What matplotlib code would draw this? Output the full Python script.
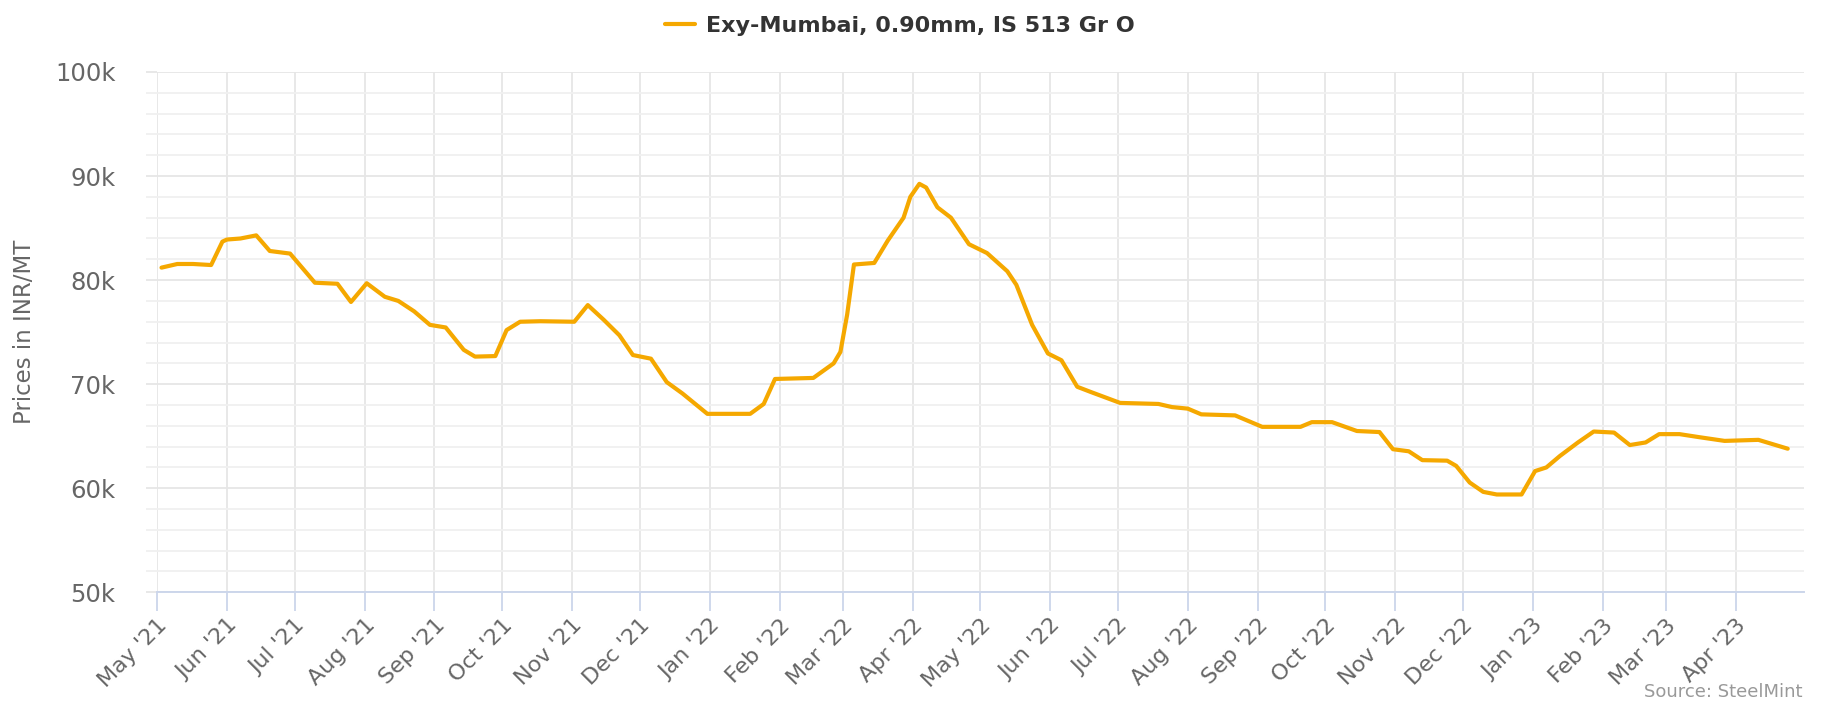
import matplotlib
matplotlib.use("Agg")
import matplotlib.pyplot as plt
import matplotlib.dates as mdates
from matplotlib.ticker import MultipleLocator, FuncFormatter
from matplotlib import font_manager
import pandas as pd

# ---- data ----
dates = [
    "2021-05-03", "2021-05-10", "2021-05-17", "2021-05-25", "2021-05-30", "2021-06-01",
    "2021-06-07", "2021-06-14", "2021-06-20", "2021-06-29", "2021-07-10", "2021-07-20",
    "2021-07-26", "2021-08-02", "2021-08-10", "2021-08-16", "2021-08-23", "2021-08-30",
    "2021-09-06", "2021-09-14", "2021-09-19", "2021-09-28", "2021-10-03", "2021-10-09",
    "2021-10-18", "2021-11-02", "2021-11-08", "2021-11-15", "2021-11-22", "2021-11-28",
    "2021-12-06", "2021-12-13", "2021-12-20", "2021-12-31", "2022-01-19", "2022-01-25",
    "2022-01-30", "2022-02-16", "2022-02-25", "2022-02-28", "2022-03-03", "2022-03-06",
    "2022-03-15", "2022-03-21", "2022-03-28", "2022-03-31", "2022-04-04", "2022-04-07",
    "2022-04-12", "2022-04-18", "2022-04-26", "2022-05-04", "2022-05-13", "2022-05-17",
    "2022-05-24", "2022-05-31", "2022-06-06", "2022-06-13", "2022-06-19", "2022-07-02",
    "2022-07-19", "2022-07-25", "2022-08-01", "2022-08-07", "2022-08-22", "2022-09-03",
    "2022-09-20", "2022-09-25", "2022-10-04", "2022-10-15", "2022-10-25", "2022-10-31",
    "2022-11-07", "2022-11-13", "2022-11-24", "2022-11-28", "2022-12-04", "2022-12-10",
    "2022-12-16", "2022-12-27", "2023-01-02", "2023-01-07", "2023-01-13", "2023-01-21",
    "2023-01-28", "2023-02-06", "2023-02-13", "2023-02-20", "2023-02-26", "2023-03-07",
    "2023-03-16", "2023-03-27", "2023-04-11", "2023-04-24",
]
prices = [
    81200, 81550, 81550, 81450, 83700, 83900,
    84000, 84300, 82800, 82550, 79750, 79650,
    77900, 79700, 78400, 78000, 77000, 75700,
    75450, 73300, 72650, 72700, 75200, 76000,
    76050, 76000, 77600, 76200, 74700, 72800,
    72450, 70200, 69100, 67150, 67150, 68100,
    70500, 70600, 72000, 73100, 76700, 81500,
    81650, 83800, 86000, 88000, 89250, 88900,
    87000, 86000, 83450, 82600, 80850, 79550,
    75700, 72950, 72300, 69750, 69250, 68200,
    68100, 67800, 67650, 67100, 67000, 65900,
    65900, 66350, 66350, 65500, 65400, 63750,
    63550, 62700, 62650, 62150, 60550, 59650,
    59400, 59400, 61650, 62000, 63100, 64400,
    65450, 65350, 64150, 64400, 65200, 65200,
    64900, 64550, 64650, 63800,
]
month_ticks = pd.date_range("2021-05-01", "2023-04-01", freq="MS")
series_name = "Exy-Mumbai, 0.90mm, IS 513 Gr O"
y_title = "Prices in INR/MT"
source_text = "Source: SteelMint"

x = pd.to_datetime(dates)

plt.rcParams['font.family'] = ['DejaVu Sans']
names = {f.name for f in font_manager.fontManager.ttflist}
narrow = 'Liberation Sans Narrow' if 'Liberation Sans Narrow' in names else 'DejaVu Sans'

W, H = 1822, 704
fig = plt.figure(figsize=(W / 100, H / 100), dpi=100)
left, right, top, bottom = 157, 1803.5, 72, 592.3
ax = fig.add_axes([left / W, 1 - bottom / H, (right - left) / W, (bottom - top) / H])

line_color = '#F5A800'
ax.plot(x, prices, color=line_color, lw=3.0, solid_joinstyle='round',
        solid_capstyle='round', label=series_name, zorder=3)

ax.set_xlim(pd.Timestamp("2021-05-01"), pd.Timestamp("2023-05-01"))
ax.set_ylim(50000, 100000)

# y axis
ax.yaxis.set_major_locator(MultipleLocator(10000))
ax.yaxis.set_minor_locator(MultipleLocator(2000))
ax.yaxis.set_major_formatter(FuncFormatter(lambda v, p: f"{int(v/1000)}k"))
ax.tick_params(axis='y', which='both', direction='out', length=8, width=1.3,
               color='#e6e6e6', pad=22, labelsize=17.5, labelcolor='#666666')
ax.tick_params(axis='y', which='minor', color='#f0f0f0')

# x axis
ax.set_xticks(month_ticks)
ax.xaxis.set_major_formatter(mdates.DateFormatter("%b '%y"))
ax.tick_params(axis='x', which='major', direction='out', length=13.5, width=1.3,
               color='#ccd6eb', pad=3, labelsize=16, labelcolor='#666666')
for lab in ax.get_xticklabels():
    lab.set_rotation(45)
    lab.set_ha('right')
    lab.set_va('top')
    lab.set_rotation_mode('anchor')

# grid
ax.grid(True, which='major', axis='both', color='#e6e6e6', lw=1.3, zorder=0)
ax.grid(True, which='minor', axis='y', color='#f0f0f0', lw=1.3, zorder=0)
ax.set_axisbelow(True)

for s in ['left', 'right', 'top']:
    ax.spines[s].set_visible(False)
ax.spines['bottom'].set_color('#ccd6eb')
ax.spines['bottom'].set_linewidth(1.4)

# y title
fig.text(25 / W, 1 - 332 / H, y_title, rotation=90, ha='center', va='center',
         fontsize=16.5, color='#666666')

# legend
leg = fig.legend(loc='center', bbox_to_anchor=(0.494, 1 - 26 / H), frameon=False,
                 handlelength=1.35, handletextpad=0.5,
                 prop={'weight': 'bold', 'size': 16})
for t in leg.get_texts():
    t.set_color('#333333')

# source
fig.text(1803 / W, 1 - 692 / H, source_text, ha='right', va='center',
         fontsize=13, color='#999999', family=narrow)

fig.savefig('out.png', dpi=100, facecolor='white')
